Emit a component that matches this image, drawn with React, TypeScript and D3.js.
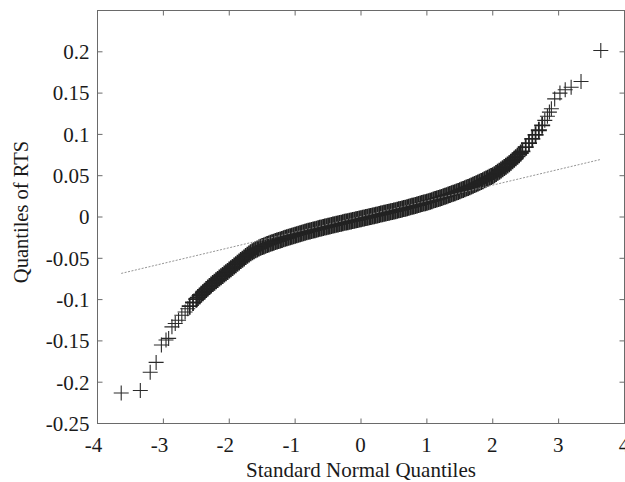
import React from 'react';
import * as d3 from 'd3';

// sample quantiles of RTS vs standard normal quantiles
// [normal quantile, sample quantile]
const lowerTail: [number, number][] = [
  [-3.64, -0.213], [-3.35, -0.21], [-3.2, -0.188], [-3.11, -0.176], [-3.03, -0.155],
  [-2.96, -0.149], [-2.92, -0.147], [-2.87, -0.133], [-2.82, -0.129], [-2.77, -0.125],
  [-2.72, -0.119], [-2.67, -0.115], [-2.63, -0.111],
];

const body: [number, number][] = [
  [-2.6, -0.108], [-2.55, -0.1035], [-2.5, -0.0995], [-2.475, -0.0975], [-2.45, -0.0955],
  [-2.425, -0.0936], [-2.4, -0.0917], [-2.375, -0.0898], [-2.35, -0.0879], [-2.325, -0.086],
  [-2.3, -0.0842], [-2.275, -0.0824], [-2.25, -0.0806], [-2.225, -0.0789], [-2.2, -0.0773],
  [-2.175, -0.0756], [-2.15, -0.074], [-2.125, -0.0723], [-2.1, -0.0707], [-2.075, -0.0691],
  [-2.05, -0.0675], [-2.025, -0.0659], [-2.0, -0.0643], [-1.975, -0.0627], [-1.95, -0.0611],
  [-1.925, -0.0594], [-1.9, -0.0577], [-1.875, -0.056], [-1.85, -0.0544], [-1.825, -0.0527],
  [-1.8, -0.0511], [-1.775, -0.0495], [-1.75, -0.0479], [-1.725, -0.0463], [-1.7, -0.0448],
  [-1.675, -0.0434], [-1.65, -0.042], [-1.625, -0.0408], [-1.6, -0.0396], [-1.575, -0.0386],
  [-1.55, -0.0376], [-1.525, -0.0367], [-1.5, -0.0358], [-1.475, -0.035], [-1.45, -0.0342],
  [-1.425, -0.0334], [-1.4, -0.0327], [-1.375, -0.0319], [-1.35, -0.0312], [-1.325, -0.0305],
  [-1.3, -0.0298], [-1.275, -0.0291], [-1.25, -0.0284], [-1.225, -0.0277], [-1.2, -0.0271],
  [-1.175, -0.0264], [-1.15, -0.0257], [-1.125, -0.0251], [-1.1, -0.0245], [-1.075, -0.0238],
  [-1.05, -0.0232], [-1.025, -0.0226], [-1.0, -0.022], [-0.975, -0.0214], [-0.95, -0.0208],
  [-0.925, -0.0202], [-0.9, -0.0197], [-0.875, -0.0191], [-0.85, -0.0185], [-0.825, -0.0179],
  [-0.8, -0.0174], [-0.775, -0.0169], [-0.75, -0.0164], [-0.725, -0.0158], [-0.7, -0.0153],
  [-0.675, -0.0147], [-0.65, -0.0142], [-0.625, -0.0137], [-0.6, -0.0132], [-0.575, -0.0127],
  [-0.55, -0.0122], [-0.525, -0.0117], [-0.5, -0.0113], [-0.475, -0.0108], [-0.45, -0.0103],
  [-0.425, -0.0098], [-0.4, -0.0093], [-0.375, -0.0088], [-0.35, -0.0084], [-0.325, -0.0079],
  [-0.3, -0.0075], [-0.275, -0.007], [-0.25, -0.0065], [-0.225, -0.006], [-0.2, -0.0056],
  [-0.175, -0.0051], [-0.15, -0.0047], [-0.125, -0.0042], [-0.1, -0.0038], [-0.075, -0.0033],
  [-0.05, -0.0029], [-0.025, -0.0024], [0.0, -0.002], [0.025, -0.0015], [0.05, -0.0011],
  [0.075, -0.0006], [0.1, -0.0002], [0.125, 0.0003], [0.15, 0.0007], [0.175, 0.0012],
  [0.2, 0.0016], [0.225, 0.0021], [0.25, 0.0025], [0.275, 0.003], [0.3, 0.0035],
  [0.325, 0.0039], [0.35, 0.0044], [0.375, 0.0049], [0.4, 0.0053], [0.425, 0.0058],
  [0.45, 0.0063], [0.475, 0.0068], [0.5, 0.0073], [0.525, 0.0077], [0.55, 0.0082],
  [0.575, 0.0087], [0.6, 0.0092], [0.625, 0.0097], [0.65, 0.0102], [0.675, 0.0107],
  [0.7, 0.0113], [0.725, 0.0118], [0.75, 0.0124], [0.775, 0.0129], [0.8, 0.0134],
  [0.825, 0.014], [0.85, 0.0145], [0.875, 0.0151], [0.9, 0.0157], [0.925, 0.0162],
  [0.95, 0.0168], [0.975, 0.0174], [1.0, 0.018], [1.025, 0.0186], [1.05, 0.0192],
  [1.075, 0.0198], [1.1, 0.0205], [1.125, 0.0211], [1.15, 0.0217], [1.175, 0.0224],
  [1.2, 0.0231], [1.225, 0.0237], [1.25, 0.0244], [1.275, 0.0251], [1.3, 0.0258],
  [1.325, 0.0265], [1.35, 0.0272], [1.375, 0.028], [1.4, 0.0287], [1.425, 0.0295],
  [1.45, 0.0302], [1.475, 0.031], [1.5, 0.0318], [1.525, 0.0326], [1.55, 0.0334],
  [1.575, 0.0342], [1.6, 0.035], [1.625, 0.0358], [1.65, 0.0367], [1.675, 0.0375],
  [1.7, 0.0384], [1.725, 0.0393], [1.75, 0.0402], [1.775, 0.0411], [1.8, 0.0421],
  [1.825, 0.043], [1.85, 0.044], [1.875, 0.045], [1.9, 0.046], [1.925, 0.047],
  [1.95, 0.048], [1.975, 0.049], [2.0, 0.05], [2.025, 0.0513], [2.05, 0.0527],
  [2.075, 0.0541], [2.1, 0.0555], [2.125, 0.0569], [2.15, 0.0584], [2.175, 0.0599],
  [2.2, 0.0614], [2.225, 0.063], [2.25, 0.0646], [2.275, 0.0663], [2.3, 0.068],
  [2.325, 0.0698], [2.35, 0.0716], [2.375, 0.0735], [2.4, 0.0755], [2.425, 0.0775],
  [2.45, 0.0795], [2.5, 0.0845], [2.55, 0.0895], [2.6, 0.0945], [2.65, 0.0995],
  [2.7, 0.105], [2.75, 0.111],
];

const upperTail: [number, number][] = [
  [2.79, 0.117], [2.83, 0.122], [2.86, 0.127], [2.89, 0.131], [2.94, 0.143],
  [3.02, 0.15], [3.1, 0.154], [3.19, 0.157], [3.34, 0.164], [3.64, 0.2015],
];

// fitted reference line end points
const refLine: [number, number][] = [[-3.64, -0.0683], [3.64, 0.0697]];

const xTicks = [-4, -3, -2, -1, 0, 1, 2, 3, 4];
const yTicks = [-0.25, -0.2, -0.15, -0.1, -0.05, 0, 0.05, 0.1, 0.15, 0.2];
const yTickLabels = ['-0.25', '-0.2', '-0.15', '-0.1', '-0.05', '0', '0.05', '0.1', '0.15', '0.2'];

const W = 625;
const H = 482;
const FONT = '"Liberation Serif", "Times New Roman", serif';

export default function App() {
  const x = d3.scaleLinear().domain([-4, 4]).range([97.5, 624.5]);
  const y = d3.scaleLinear().domain([-0.25, 0.25]).range([423.5, 10.5]);

  const plus = 'M-7.5,0H7.5M0,-7.5V7.5';
  const bodyPlus = 'M-8,0H8M0,-8.5V8.5';
  const line = d3.line<[number, number]>().x(d => x(d[0])).y(d => y(d[1]));

  const left = x(-4), right = x(4), top = y(0.25), bottom = y(-0.25);
  const tl = 5; // tick length, inward

  return (
    <svg width={W} height={H} style={{ position: 'absolute', left: 0, top: 0, background: '#fff' }}>
      <rect x={0} y={0} width={W} height={H} fill="#fff" />

      {/* points: sparse tails thin, dense body heavy enough to merge */}
      <g stroke="#222" strokeWidth={1.8} fill="none">
        {body.map((d, i) => (
          <path key={'b' + i} d={bodyPlus} transform={`translate(${x(d[0])},${y(d[1])})`} />
        ))}
      </g>
      <g stroke="#2a2a2a" strokeWidth={1.1} fill="none">
        {[...lowerTail, ...upperTail].map((d, i) => (
          <path key={'t' + i} d={plus} transform={`translate(${x(d[0])},${y(d[1])})`} />
        ))}
      </g>

      {/* reference line */}
      <path d={line(refLine) || ''} stroke="#888" strokeWidth={0.9} strokeDasharray="2,1.5" fill="none" />

      {/* axes box and ticks */}
      <g stroke="#6a6a6a" strokeWidth={1} fill="none">
        <rect x={left} y={top} width={right - left} height={bottom - top} />
        {xTicks.map(t => (
          <g key={'x' + t}>
            <line x1={x(t)} x2={x(t)} y1={bottom} y2={bottom - tl} />
            <line x1={x(t)} x2={x(t)} y1={top} y2={top + tl} />
          </g>
        ))}
        {yTicks.map(t => (
          <g key={'y' + t}>
            <line x1={left} x2={left + tl} y1={y(t)} y2={y(t)} />
            <line x1={right} x2={right - tl} y1={y(t)} y2={y(t)} />
          </g>
        ))}
      </g>

      {/* tick labels */}
      <g fontFamily={FONT} fontSize={21} fill="#1a1a1a">
        {xTicks.map(t => (
          <text key={'xl' + t} x={x(t) + 4.8} y={452} textAnchor="end">{t < 0 ? '-' + Math.abs(t) : String(t)}</text>
        ))}
        {yTicks.map((t, i) => (
          <text key={'yl' + t} x={89.5} y={y(t)} dy="0.35em" textAnchor="end">{yTickLabels[i]}</text>
        ))}
      </g>

      {/* axis titles */}
      <text x={(left + right) / 2} y={477} textAnchor="middle" fontFamily={FONT} fontSize={21} fill="#1a1a1a">
        Standard Normal Quantiles
      </text>
      <text transform={`translate(28,212) rotate(-90)`} textAnchor="middle" fontFamily={FONT} fontSize={20.5} fill="#1a1a1a">
        Quantiles of RTS
      </text>
    </svg>
  );
}
